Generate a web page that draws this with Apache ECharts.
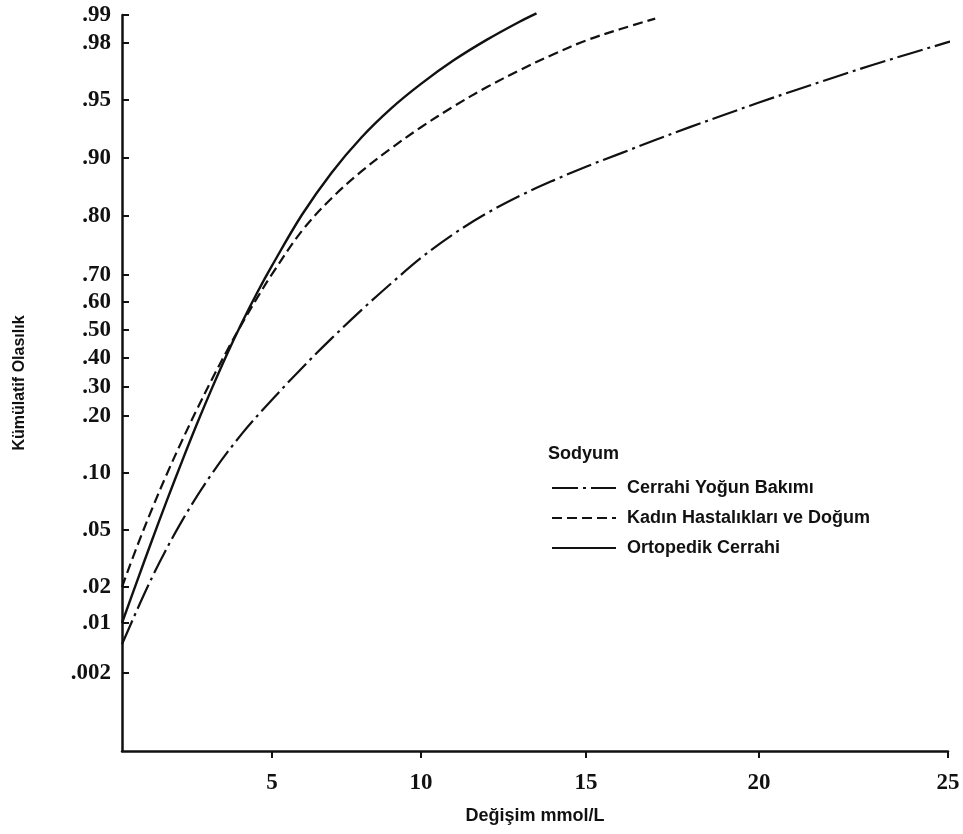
<!DOCTYPE html>
<html>
<head>
<meta charset="utf-8">
<script src="https://cdn.jsdelivr.net/npm/echarts@6/dist/echarts.min.js"></script>
<style>
  html, body { margin: 0; padding: 0; background: #fff; }
  #main { width: 963px; height: 834px; }
</style>
</head>
<body>
<div id="main"></div>
<script>
// probability scale of the y axis (tick labels and where they sit on the axis)
const yTickProbs = [0.002, 0.01, 0.02, 0.05, 0.10, 0.20, 0.30, 0.40, 0.50, 0.60, 0.70, 0.80, 0.90, 0.95, 0.98, 0.99];
const yTickLabels = ['.002', '.01', '.02', '.05', '.10', '.20', '.30', '.40', '.50', '.60', '.70', '.80', '.90', '.95', '.98', '.99'];
const yScaleKnots = [78, 128, 164, 221, 278, 335, 364, 393, 421, 449, 476, 535, 593, 651, 708, 736];

// x axis scale (the printed axis is not quite linear)
const xTickVals = [0, 5, 10, 15, 20, 25];
const xScaleKnots = [0, 150, 299, 464, 637, 826];

const seriesNames = ['Cerrahi Yoğun Bakımı', 'Kadın Hastalıkları ve Doğum', 'Ortopedik Cerrahi'];

// Cerrahi Yoğun Bakımı
const cybX = [0, 1, 2, 3, 4, 5, 6, 7, 8, 9, 10, 11, 12, 13, 14, 15, 16, 17, 18, 19, 20, 21, 22, 23, 24, 25, 25.4];
const cybP = [0.0066, 0.025, 0.058, 0.0995, 0.169, 0.256, 0.365, 0.47, 0.571, 0.669, 0.729, 0.770, 0.805, 0.835, 0.861, 0.885, 0.904, 0.9155, 0.9266, 0.9373, 0.9478, 0.9554, 0.962, 0.9684, 0.9745, 0.9803, 0.9819];

// Kadın Hastalıkları ve Doğum
const khdX = [0, 0.5, 1, 1.5, 2, 2.5, 3, 3.5, 4, 4.5, 5, 6, 7, 8, 9, 10, 11, 12, 13, 14, 15, 16, 17];
const khdP = [0.02, 0.0413, 0.0684, 0.0994, 0.1567, 0.2234, 0.3269, 0.4261, 0.5225, 0.6141, 0.7014, 0.7746, 0.8307, 0.8769, 0.9084, 0.9265, 0.9447, 0.9568, 0.9658, 0.974, 0.9809, 0.985, 0.9887];

// Ortopedik Cerrahi
const ortX = [0, 0.5, 1, 1.5, 2, 2.5, 3, 3.5, 4, 4.5, 5, 6, 7, 8, 9, 10, 11, 12, 13, 13.5];
const ortP = [0.01, 0.023, 0.0446, 0.0762, 0.1205, 0.1863, 0.2962, 0.4136, 0.5268, 0.6333, 0.7158, 0.8017, 0.8747, 0.9177, 0.9428, 0.9585, 0.971, 0.9812, 0.9877, 0.9906];

function interp(v, from, to) {
  let i = 0;
  while (i < from.length - 2 && v > from[i + 1]) i++;
  const t = (v - from[i]) / (from[i + 1] - from[i]);
  return to[i] + t * (to[i + 1] - to[i]);
}
const toY = p => interp(p, yTickProbs, yScaleKnots);
const toX = x => interp(x, xTickVals, xScaleKnots);

function build(xs, ps) {
  return xs.map((x, i) => [toX(x), toY(ps[i])]);
}

window.onload = function () {
  const chartDom = document.getElementById('main');
  const myChart = echarts.init(chartDom);

  const lineCommon = {
    type: 'line',
    smooth: 0.35,
    showSymbol: false,
    symbol: 'none',
    clip: false,
    silent: true
  };

  const option = {
    animation: false,
    backgroundColor: '#fff',
    title: {
      text: 'Sodyum',
      left: 543,
      top: 440,
      textStyle: { fontFamily: 'Liberation Sans', fontWeight: 'bold', fontSize: 18, color: '#111' }
    },
    legend: {
      orient: 'vertical',
      left: 546,
      top: 474,
      itemWidth: 64,
      itemHeight: 14,
      itemGap: 12,
      data: seriesNames,
      itemStyle: { opacity: 0 },
      textStyle: { fontFamily: 'Liberation Sans', fontWeight: 'bold', fontSize: 18, color: '#111', padding: [0, 0, 0, 6] }
    },
    grid: { left: 122, right: 15, top: 15, bottom: 83 },
    xAxis: {
      type: 'value',
      min: 0,
      max: xScaleKnots[xScaleKnots.length - 1],
      name: 'Değişim mmol/L',
      nameLocation: 'middle',
      nameGap: 56,
      nameTextStyle: { fontFamily: 'Liberation Sans', fontWeight: 'bold', fontSize: 18, color: '#111' },
      axisLine: { show: true, onZero: false, lineStyle: { color: '#111', width: 2.5 } },
      axisTick: { show: true, inside: false, length: 7, lineStyle: { color: '#111', width: 2 }, customValues: xScaleKnots.slice(1) },
      axisLabel: {
        customValues: xScaleKnots.slice(1),
        margin: 21,
        fontFamily: 'Liberation Serif',
        fontWeight: 'bold',
        fontSize: 23,
        color: '#111',
        formatter: v => String(xTickVals[xScaleKnots.indexOf(v)])
      },
      splitLine: { show: false }
    },
    yAxis: {
      type: 'value',
      min: 0,
      max: yScaleKnots[yScaleKnots.length - 1],
      name: 'Kümülatif Olasılık',
      nameLocation: 'middle',
      nameGap: 94,
      nameRotate: 90,
      nameTextStyle: { fontFamily: 'Liberation Sans', fontWeight: 'bold', fontSize: 16, color: '#111' },
      axisLine: { show: true, onZero: false, lineStyle: { color: '#111', width: 2.5 } },
      axisTick: { show: true, inside: true, length: 7, lineStyle: { color: '#111', width: 2 }, customValues: yScaleKnots },
      axisLabel: {
        customValues: yScaleKnots,
        margin: 11,
        fontFamily: 'Liberation Serif',
        fontWeight: 'bold',
        fontSize: 23,
        color: '#111',
        formatter: v => yTickLabels[yScaleKnots.indexOf(v)]
      },
      splitLine: { show: false }
    },
    series: [
      Object.assign({}, lineCommon, {
        name: seriesNames[0],
        data: build(cybX, cybP),
        lineStyle: { color: '#111', width: 2.2, type: [26, 5, 3, 5] },
        itemStyle: { color: '#111' }
      }),
      Object.assign({}, lineCommon, {
        name: seriesNames[1],
        data: build(khdX, khdP),
        lineStyle: { color: '#111', width: 2.2, type: [10, 5] },
        itemStyle: { color: '#111' }
      }),
      Object.assign({}, lineCommon, {
        name: seriesNames[2],
        data: build(ortX, ortP),
        lineStyle: { color: '#111', width: 2.4, type: 'solid' },
        itemStyle: { color: '#111' }
      })
    ]
  };

  option && myChart.setOption(option);
};
</script>
</body>
</html>
